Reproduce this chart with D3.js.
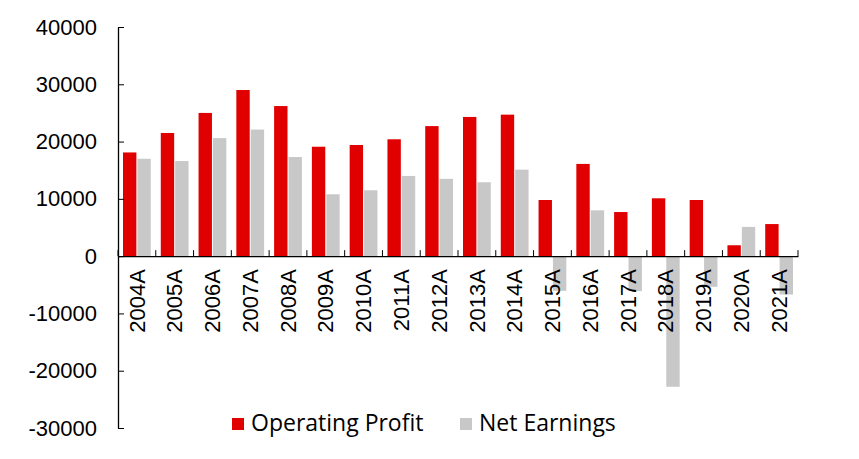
<!DOCTYPE html>
<html>
<head>
<meta charset="utf-8">
<script src="https://cdn.jsdelivr.net/npm/d3@7"></script>
<style>
  body { margin: 0; background: #fff; }
  svg { display: block; }
</style>
</head>
<body>
<div id="chart"></div>
<script>
// data
const years = ["2004A", "2005A", "2006A", "2007A", "2008A", "2009A", "2010A", "2011A", "2012A",
               "2013A", "2014A", "2015A", "2016A", "2017A", "2018A", "2019A", "2020A", "2021A"];
const operatingProfit = [18100, 21500, 25000, 29000, 26200, 19100, 19400, 20400, 22700,
                         24300, 24700, 9800, 16100, 7700, 10100, 9800, 1900, 5600];
const netEarnings = [17000, 16600, 20600, 22100, 17300, 10800, 11500, 14000, 13500,
                     12900, 15100, -6050, 8000, -6100, -22800, -5350, 5100, -6700];
const seriesNames = ["Operating Profit", "Net Earnings"];
const yTicks = [40000, 30000, 20000, 10000, 0, -10000, -20000, -30000];

const colors = { "Operating Profit": "#e00000", "Net Earnings": "#c8c8c8" };

const width = 859, height = 459;
const margin = { left: 118, right: 61, top: 27, bottom: 31 };

const svg = d3.select("#chart").append("svg")
    .attr("width", width)
    .attr("height", height);

const x = d3.scaleBand()
    .domain(years)
    .range([margin.left, width - margin.right]);

const x1 = d3.scaleBand()
    .domain(seriesNames)
    .range([5, x.bandwidth() - 5])
    .paddingInner(0.07);

const y = d3.scaleLinear()
    .domain([-30000, 40000])
    .range([height - margin.bottom, margin.top]);

const rows = years.map((yr, i) => ({
    year: yr,
    values: [
        { key: seriesNames[0], value: operatingProfit[i] },
        { key: seriesNames[1], value: netEarnings[i] }
    ]
}));

// bars
const groups = svg.append("g")
    .selectAll("g")
    .data(rows)
    .enter()
    .append("g")
    .attr("transform", d => `translate(${x(d.year)},0)`);

groups.selectAll("rect")
    .data(d => d.values)
    .enter()
    .append("rect")
    .attr("x", d => x1(d.key))
    .attr("width", x1.bandwidth())
    .attr("y", d => y(Math.max(0, d.value)))
    .attr("height", d => Math.abs(y(d.value) - y(0)))
    .attr("fill", d => colors[d.key]);

// y axis, ticks pointing inward, plain hyphen for negatives
const yAxis = svg.append("g")
    .attr("transform", `translate(${margin.left},0)`)
    .call(d3.axisLeft(y)
        .tickValues(yTicks)
        .tickFormat(d => String(d))
        .tickSize(-6)
        .tickSizeOuter(0)
        .tickPadding(21));

yAxis.selectAll("text")
    .style("font-family", "'Liberation Sans', Arial, sans-serif")
    .style("font-size", "22px")
    .attr("fill", "#000");

// x axis at zero
const xAxis = svg.append("g")
    .attr("transform", `translate(0,${y(0)})`)
    .call(d3.axisBottom(x).tickSize(0).tickSizeOuter(0));

xAxis.selectAll("text")
    .attr("transform", "rotate(-90)")
    .attr("x", -13)
    .attr("y", 0)
    .attr("dy", "0.35em")
    .style("text-anchor", "end")
    .style("font-family", "'Liberation Sans', Arial, sans-serif")
    .style("font-size", "22px")
    .attr("fill", "#000");

// ticks at category boundaries
xAxis.selectAll(".bound")
    .data(d3.range(years.length + 1))
    .enter()
    .append("line")
    .attr("class", "bound")
    .attr("x1", i => margin.left + i * x.step())
    .attr("x2", i => margin.left + i * x.step())
    .attr("y1", 0)
    .attr("y2", -6)
    .attr("stroke", "#000");

svg.selectAll(".domain").attr("stroke", "#000").attr("stroke-width", 1.3);
svg.selectAll(".tick line").attr("stroke", "#000");

// legend
const legend = svg.append("g")
    .attr("transform", "translate(232,418)");

const legendX = [0, 228];
const items = legend.selectAll("g")
    .data(seriesNames)
    .enter()
    .append("g")
    .attr("transform", (d, i) => `translate(${legendX[i]},0)`);

items.append("rect")
    .attr("width", 12)
    .attr("height", 12)
    .attr("fill", d => colors[d]);

items.append("text")
    .attr("x", 19)
    .attr("y", 13)
    .style("font-family", "'Open Sans', 'Noto Sans', sans-serif")
    .style("font-size", "23px")
    .attr("fill", "#000")
    .text(d => d);
</script>
</body>
</html>
